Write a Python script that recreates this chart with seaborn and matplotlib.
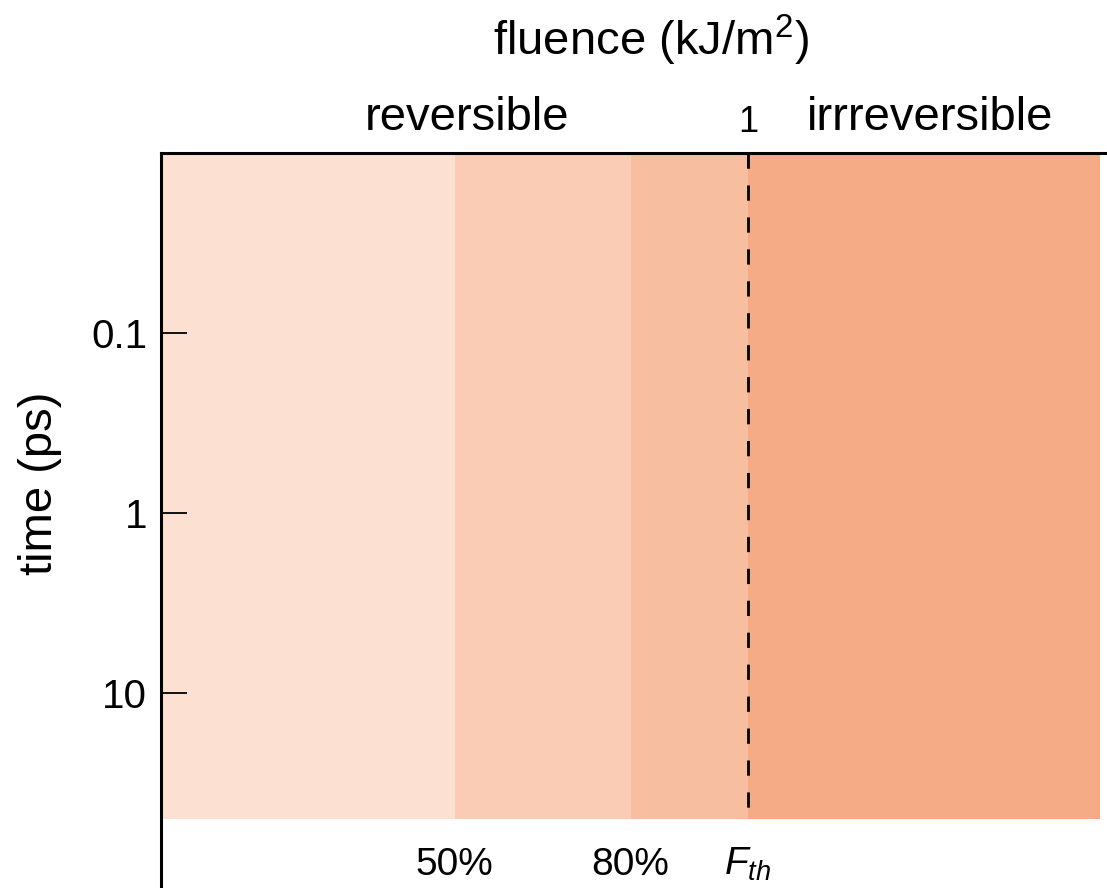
import matplotlib
matplotlib.use('Agg')
import matplotlib.pyplot as plt
import matplotlib.transforms as mtransforms
import seaborn as sns
import numpy as np

# fluence bands (kJ/m^2), left edges and right edges
band_left = [0.0, 0.5, 0.8, 1.0]
band_right = [0.5, 0.8, 1.0, 1.6]
band_colors = ['#FCE0D1', '#FACCB5', '#F8BEA0', '#F6AB87']
t_top = 0.01
t_bottom = 50.0

threshold = 1.0
frac_pos = [0.5, 0.8, 1.0]
frac_labels = ['50%', '80%', r'$F_{th}$']

time_ticks = [0.1, 1, 10]
time_labels = ['0.1', '1', '10']

sns.set_theme(style='white')
plt.rcParams['font.family'] = ['Liberation Sans', 'DejaVu Sans']
plt.rcParams['text.color'] = 'black'
plt.rcParams['mathtext.fontset'] = 'custom'
plt.rcParams['mathtext.rm'] = 'Liberation Sans'
plt.rcParams['mathtext.it'] = 'Liberation Sans:italic'

W, H = 1107, 888
fig = plt.figure(figsize=(W / 100, H / 100), dpi=100)
ax = fig.add_axes([161 / W, 0, 1 - 161 / W, 1 - 153 / H])

# bands
ax.bar(band_left, height=t_bottom - t_top, width=np.subtract(band_right, band_left),
       bottom=t_top, align='edge', color=band_colors, linewidth=0, zorder=1)

# threshold dashed line
sns.lineplot(x=[threshold, threshold], y=[t_top, t_bottom], ax=ax, color='black',
             estimator=None, sort=False, lw=2, linestyle=(0, (5.5, 6)), zorder=3)

ax.set_yscale('log')
ax.set_xlim(0, (W - 161) / 587)
ax.set_ylim(10 ** (1 + (888 - 693) / 180), t_top)
ax.set_axisbelow(False)

for s in ['right', 'bottom']:
    ax.spines[s].set_visible(False)
for s in ['left', 'top']:
    ax.spines[s].set_visible(True)
    ax.spines[s].set_linewidth(2.2)
    ax.spines[s].set_color('black')

ax.xaxis.tick_top()
ax.set_xticks([threshold])
ax.set_xticklabels(['1'])
ax.set_yticks(time_ticks)
ax.set_yticklabels(time_labels)
ax.minorticks_off()
ax.tick_params(axis='y', direction='in', length=19, width=1.3, pad=10,
               labelsize=29, color='black', labelcolor='black', left=True)
ax.tick_params(axis='x', direction='in', length=10, width=1.3, pad=9,
               labelsize=26, color='black', labelcolor='black', top=True, bottom=False)
ax.set_xlabel('')
ax.set_ylabel('')
ax.grid(False)

# labels
fig.text(651 / W, 1 - 55 / H, r'fluence (kJ/m$^2$)', ha='center', va='baseline', fontsize=34)
fig.text(467 / W, 1 - 130 / H, 'reversible', ha='center', va='baseline', fontsize=34)
fig.text(930 / W, 1 - 130 / H, 'irrreversible', ha='center', va='baseline', fontsize=34)
fig.text(40 / W, 1 - 483 / H, 'time (ps)', ha='center', va='center',
         rotation=90, fontsize=34)

trans = mtransforms.blended_transform_factory(ax.transData, fig.transFigure)
for xp, lab in zip(frac_pos, frac_labels):
    ax.text(xp, 1 - 875 / H, lab, transform=trans, ha='center', va='baseline',
            fontsize=28, color='black')

fig.savefig('out.png', dpi=100, facecolor='white')
